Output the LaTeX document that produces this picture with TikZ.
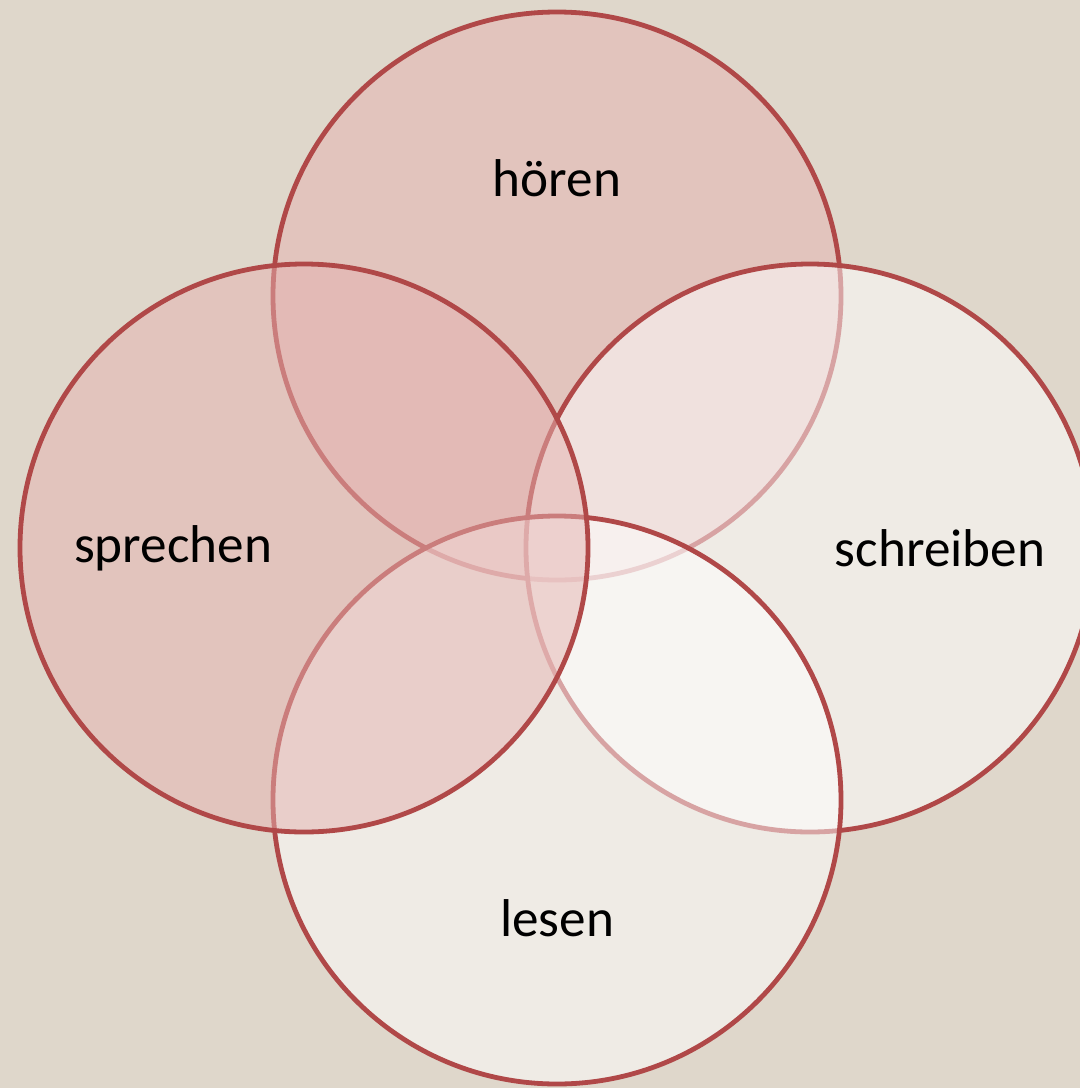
\documentclass[tikz,border=0pt]{standalone}
\usepackage{fontspec}
\setmainfont{Carlito}
\definecolor{bgbeige}{RGB}{223,215,203}
\definecolor{ringred}{RGB}{176,72,72}
\definecolor{rosefill}{RGB}{229,178,176}
\begin{document}
\begin{tikzpicture}[x=0.5pt,y=-0.5pt,
  ring/.style={circle,draw=ringred,line width=2.4pt,minimum size=284pt,inner sep=0pt},
  rosering/.style={ring,fill=rosefill,fill opacity=0.5},
  paleering/.style={ring,fill=white,fill opacity=0.5},
  skill/.style={font=\fontsize{26.6}{32}\selectfont,text=black}]
\useasboundingbox (0,0) rectangle (1080,1088);
\fill[bgbeige] (0,0) rectangle (1080,1088);
\clip (0,0) rectangle (1080,1088);
% circles, back to front
\node[rosering] (hoeren) at (557,296) {};
\node[paleering] (schreiben) at (810,548) {};
\node[paleering] (lesen) at (557,800) {};
\node[rosering] (sprechen) at (304,548) {};
% labels
\node[skill] (hoerenlbl) at (557,178) {hören};
\node[skill] (sprechenlbl) at (173,548) {sprechen};
\node[skill] (schreibenlbl) at (940,548) {schreiben};
\node[skill] (lesenlbl) at (557,918) {lesen};
\end{tikzpicture}
\end{document}
